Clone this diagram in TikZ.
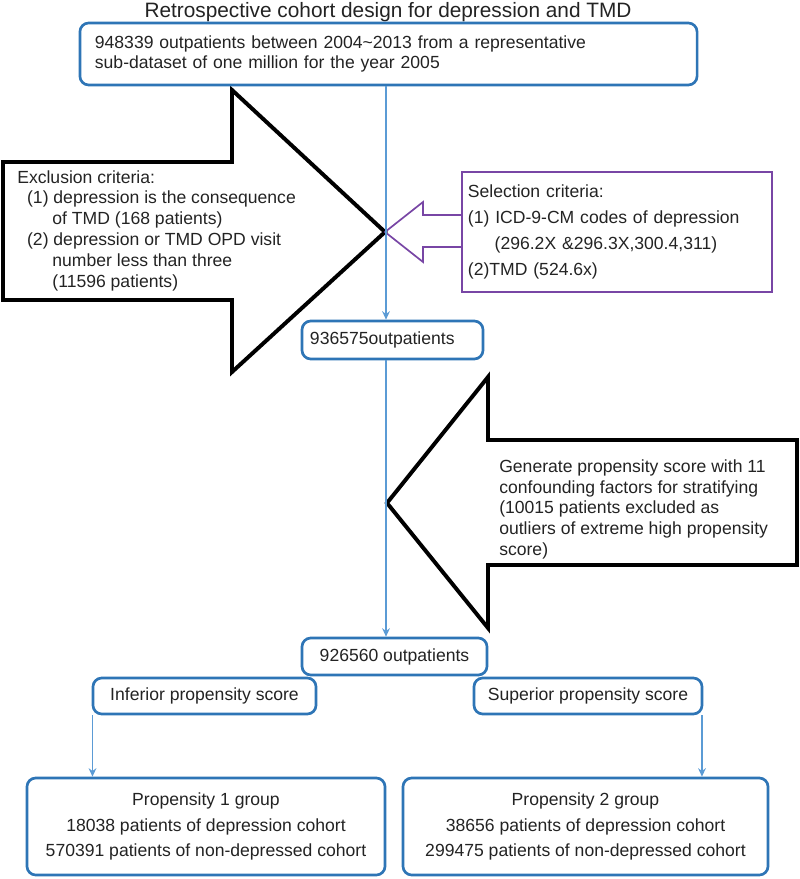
\documentclass[tikz,border=0pt]{standalone}
\usepackage{fontspec}
\setmainfont{Liberation Sans}
\usetikzlibrary{arrows.meta}
\definecolor{boxblue}{RGB}{46,117,182}
\definecolor{lineblue}{RGB}{91,155,213}
\definecolor{selpurple}{RGB}{120,70,165}
\definecolor{txtgray}{RGB}{35,35,35}

\begin{document}
\begin{tikzpicture}[x=0.025cm, y=-0.025cm,
    bluebox/.style={draw=boxblue, line width=1.9pt, rounded corners=0.22cm, fill=white,
        inner sep=0pt, text=txtgray, font=\fontsize{12.5}{14.2}\selectfont},
    flow/.style={draw=lineblue, line width=1.1pt, -{Stealth[length=6pt,width=5.5pt]}},
    bigarrow/.style={draw=black, line width=2.8pt, line join=miter},
    body/.style={inner sep=0pt, anchor=north west, align=left, text=txtgray}]
    \useasboundingbox (0,0) rectangle (800,879);
    \coordinate (spine) at (386,0);

    % exclusion and propensity arrows
    \draw[bigarrow] (3,162) -- (232,162) -- (232,90) -- (385,232) -- (232,372) -- (232,300) -- (3,300) -- cycle;
    \draw[bigarrow] (797,440) -- (488,440) -- (488,377) -- (387,503) -- (488,628) -- (488,565) -- (797,565) -- cycle;
    \draw[selpurple, line width=1.2pt, line join=miter] (462,215) -- (423,215) -- (423,202) -- (385,232) -- (423,262) -- (423,247) -- (462,247);

    \node[text=txtgray, font=\fontsize{14.8}{17}\selectfont] (title) at (388,12) {Retrospective cohort design for depression and TMD};

    \node[bluebox, minimum width=15.425cm, minimum height=1.55cm, text width=14.675cm, align=left] (src) at (388.5,54)
        {948339 outpatients between 2004\textasciitilde2013 from a representative\\sub-dataset of one million for the year 2005};

    \node[body, font=\fontsize{12.5}{14.9}\selectfont] (excl) at (17,170) {Exclusion criteria:\\
        \hspace*{7pt}(1) depression is the consequence\\
        \hspace*{25pt}of TMD (168 patients)\\
        \hspace*{7pt}(2) depression or TMD OPD visit\\
        \hspace*{25pt}number less than three\\
        \hspace*{25pt}(11596 patients)};

    \node[draw=selpurple, line width=1.2pt, minimum width=7.75cm, minimum height=3cm, text width=7.45cm, align=left,
        inner sep=0pt, text=txtgray, font=\fontsize{12.5}{18.5}\selectfont] (sel) at (617,232)
        {Selection criteria:\\(1) ICD-9-CM codes of depression\\\hspace*{19pt}(296.2X \&296.3X,300.4,311)\\(2)TMD (524.6x)};

    \node[bluebox, minimum width=4.525cm, minimum height=0.95cm, text width=4.125cm, align=left] (n1) at (392.5,340) {936575outpatients};

    \node[body, font=\fontsize{12.5}{14.7}\selectfont] (gen) at (499,459.5) {Generate propensity score with 11\\
        confounding factors for stratifying\\
        (10015 patients excluded as\\
        outliers of extreme high propensity\\
        score)};

    \node[bluebox, minimum width=4.625cm, minimum height=0.925cm] (n2) at (394.5,656.5) {926560 outpatients};
    \node[bluebox, minimum width=5.575cm, minimum height=0.9cm] (inf) at (204.5,696) {Inferior propensity score};
    \node[bluebox, minimum width=5.7cm, minimum height=0.9cm] (sup) at (588,696) {Superior propensity score};

    \node[bluebox, minimum width=8.95cm, minimum height=2.425cm, align=center, font=\fontsize{12.5}{18}\selectfont] (grp1) at (206,826.5)
        {Propensity 1 group\\18038 patients of depression cohort\\570391 patients of non-depressed cohort};
    \node[bluebox, minimum width=9.125cm, minimum height=2.425cm, align=center, font=\fontsize{12.5}{18}\selectfont] (grp2) at (585.5,826.5)
        {Propensity 2 group\\38656 patients of depression cohort\\299475 patients of non-depressed cohort};

    \draw[flow] (src.south -| spine) -- (n1.north -| spine);
    \draw[flow] (n1.south -| spine) -- (n2.north -| spine);
    \draw[flow] ([xshift=0.6pt]inf.south west) -- ([xshift=0.6pt]inf.south west |- grp1.north);
    \draw[flow] ([xshift=-1pt]sup.south east) -- ([xshift=-1pt]sup.south east |- grp2.north);
\end{tikzpicture}
\end{document}
